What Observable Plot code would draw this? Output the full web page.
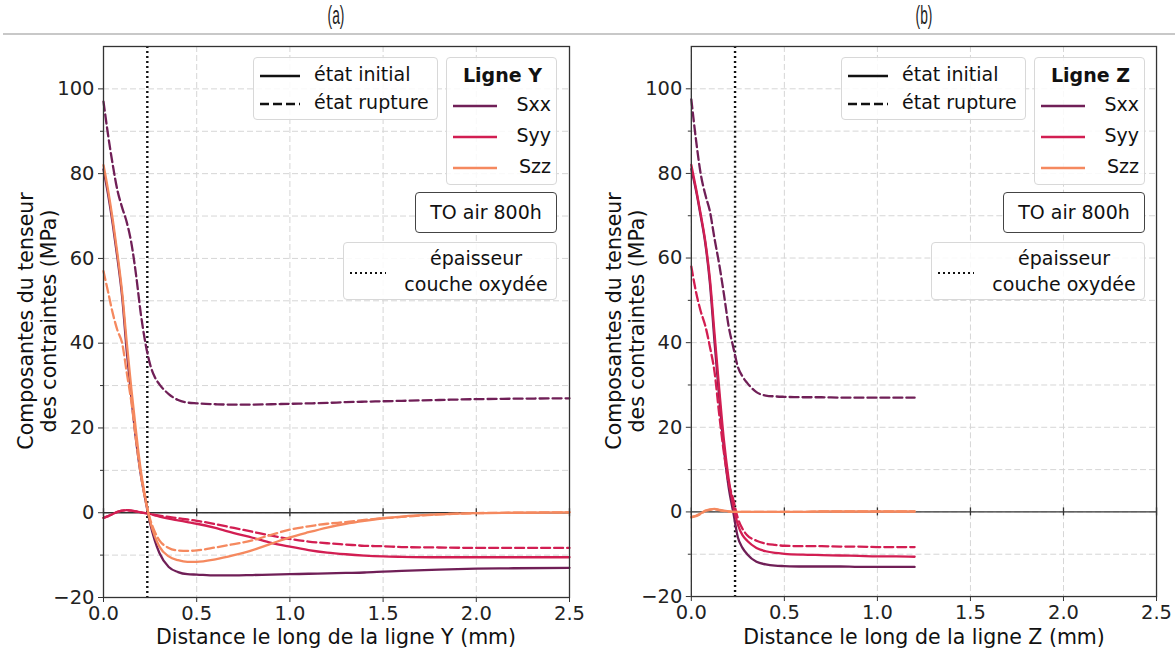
<!DOCTYPE html>
<html>
<head>
<meta charset="utf-8">
<script src="https://cdn.jsdelivr.net/npm/d3@7"></script>
<script src="https://cdn.jsdelivr.net/npm/@observablehq/plot@0.6"></script>
<style>
  html, body { margin: 0; padding: 0; background: #fff; }
  body { width: 1175px; height: 656px; position: relative; overflow: hidden; font-family: "DejaVu Sans", sans-serif; color: #111; }
  .abs { position: absolute; }
  .title { position: absolute; top: 1px; font-family: "Liberation Sans", sans-serif; font-size: 25px; transform: scaleX(0.55); transform-origin: center; width: 60px; text-align: center; color: #222; }
  .hline { position: absolute; left: 3px; right: 0; top: 33px; height: 1.5px; background: #c8c8c8; }
  .leg { position: absolute; background: rgba(255,255,255,0.85); border: 1px solid #d8d8d8; border-radius: 4px; box-sizing: border-box; font-size: 19px; }
  .row { position: absolute; height: 26px; line-height: 26px; white-space: nowrap; }
  .tobox { position: absolute; background: #fff; border: 1.3px solid #444; border-radius: 4px; box-sizing: border-box; font-size: 19px; text-align: center; }
  .ylab { position: absolute; font-size: 20.5px; white-space: nowrap; transform: translate(-50%, -50%) rotate(-90deg); text-align: center; line-height: 23px; }
  .xlab { position: absolute; font-size: 20.5px; white-space: nowrap; transform: translate(-50%, -50%); }
</style>
</head>
<body>
<div id="root"></div>
<script>
// ---------------- data ----------------
const xTicks = [0, 0.5, 1.0, 1.5, 2.0, 2.5];
const yTicks = [-20, 0, 20, 40, 60, 80, 100];
const yMinor = [-10, 10, 30, 50, 70, 90];
const yGrid = [-10, 0, 10, 20, 30, 40, 50, 60, 70, 80, 90, 100];
const oxideThickness = [0.235];
const seriesNames = ["Sxx", "Syy", "Szz"];
const seriesColors = ["#701f57", "#d21e52", "#f5895f"];
const stateNames = ["état initial", "état rupture"];

// Panel (a) : ligne Y
const xA = [0,0.025,0.05,0.075,0.1,0.125,0.15,0.175,0.2,0.225,0.25,0.275,0.3,0.35,0.4,0.45,0.5,0.6,0.7,0.8,0.9,1.0,1.1,1.2,1.3,1.4,1.5,1.6,1.8,2.0,2.2,2.5];
const aSxxInit = [81,75,68,60,51,38,27,17,9,3,-2.5,-6.5,-9.5,-12.8,-14,-14.5,-14.6,-14.8,-14.8,-14.7,-14.6,-14.5,-14.4,-14.3,-14.2,-14.1,-13.9,-13.7,-13.4,-13.2,-13.1,-13.0];
const aSyyInit = [-1.2,-0.8,-0.3,0.2,0.5,0.6,0.5,0.3,0.1,-0.1,-0.3,-0.6,-0.9,-1.4,-1.8,-2.2,-2.6,-3.6,-4.8,-5.9,-7.1,-8.0,-8.8,-9.4,-9.8,-10.1,-10.3,-10.4,-10.5,-10.5,-10.5,-10.5];
const aSzzInit = [82,76,69,61,52,40,29,19,10,3.5,-2,-5.5,-8,-10.3,-11.2,-11.6,-11.6,-11.0,-10.0,-8.8,-7.3,-5.8,-4.6,-3.5,-2.6,-1.9,-1.3,-0.9,-0.4,-0.1,0,0.1];
const aSxxRupt = [97,89,82,76,72,68.5,63.5,56,47,40,35,32,30.3,28,26.6,26,25.8,25.6,25.5,25.5,25.6,25.7,25.8,25.9,26.1,26.2,26.3,26.4,26.6,26.8,26.9,27.0];
const aSyyRupt = [-1.2,-0.8,-0.3,0.2,0.5,0.6,0.5,0.3,0.1,-0.1,-0.3,-0.5,-0.7,-1.0,-1.3,-1.6,-1.9,-2.7,-3.6,-4.5,-5.4,-6.2,-6.8,-7.2,-7.5,-7.8,-7.9,-8.1,-8.2,-8.3,-8.3,-8.3];
const aSzzRupt = [57,52,47,43,40,33,26,17,9,3,-1.5,-4.5,-6.5,-8.3,-8.9,-9.0,-8.9,-8.2,-7.4,-6.5,-5.2,-4.0,-3.2,-2.6,-2.2,-1.7,-1.3,-1.0,-0.4,-0.1,0,0.1];

// Panel (b) : ligne Z
const xB = [0,0.025,0.05,0.075,0.1,0.125,0.15,0.175,0.2,0.225,0.25,0.275,0.3,0.35,0.4,0.45,0.5,0.6,0.7,0.8,0.9,1.0,1.1,1.2];
const bSxxInit = [81,76,70,63.5,54,40,27,15,6,0,-6,-8.5,-10,-11.8,-12.4,-12.7,-12.8,-12.9,-12.9,-12.9,-13,-13,-13,-13];
const bSyyInit = [82,76.5,70.5,64,55,42,29,17,8,1.5,-3,-5.5,-6.8,-8.5,-9.3,-9.7,-9.9,-10.1,-10.2,-10.3,-10.4,-10.5,-10.5,-10.6];
const bSzzInit = [-1.2,-0.9,-0.4,0.3,0.6,0.7,0.5,0.3,0.1,0,0,0,0,0,0,0,0,0,0.1,0.1,0.1,0.1,0.1,0.1];
const bSxxRupt = [97.5,88,80,75,71,64.5,58.5,51.5,44,39,34.3,32,30.5,28.3,27.5,27.3,27.2,27.1,27.1,27.0,27.0,27.0,27.0,27.0];
const bSyyRupt = [58,52,47.5,44,39,33,23,14,7,3,-1.5,-4,-5.5,-6.8,-7.5,-7.8,-8.0,-8.1,-8.1,-8.2,-8.2,-8.3,-8.3,-8.3];
const bSzzRupt = [-1.3,-1.0,-0.5,0.2,0.5,0.6,0.4,0.2,0.1,0,0,0,0,0,0,0,0,0,0.1,0.1,0.1,0.1,0.1,0.1];

// ---------------- build ----------------
const minus = d => String(d).replace("-", "\u2212");

function rows(xs, init, rupt) {
  const out = [];
  seriesNames.forEach((s, k) => {
    xs.forEach((x, i) => out.push({x, y: init[k][i], serie: s, state: "init"}));
    xs.forEach((x, i) => out.push({x, y: rupt[k][i], serie: s, state: "rupt"}));
  });
  return out;
}

function panel(data) {
  const lineMarks = [];
  seriesNames.forEach((s, k) => {
    lineMarks.push(Plot.line(data.filter(d => d.serie === s && d.state === "init"),
      {x: "x", y: "y", stroke: seriesColors[k], strokeWidth: 2.3, curve: "monotone-x"}));
    lineMarks.push(Plot.line(data.filter(d => d.serie === s && d.state === "rupt"),
      {x: "x", y: "y", stroke: seriesColors[k], strokeWidth: 2.3, strokeDasharray: "9,4", curve: "monotone-x"}));
  });
  return Plot.plot({
    width: 588, height: 616,
    marginLeft: 103, marginRight: 19, marginTop: 6, marginBottom: 59,
    style: {fontFamily: "DejaVu Sans", fontSize: "19.5px", color: "#222", background: "white", overflow: "visible"},
    x: {domain: [0, 2.5]},
    y: {domain: [-20, 110]},
    marks: [
      Plot.gridX(xTicks, {stroke: "#d6d6d6", strokeOpacity: 1, strokeDasharray: "6,3"}),
      Plot.gridY(yGrid, {stroke: "#d6d6d6", strokeOpacity: 1, strokeDasharray: "6,3"}),
      Plot.ruleY([0], {stroke: "#333", strokeWidth: 1.4}),
      Plot.ruleX(xTicks, {x: d => d, y1: 0, y2: 0, insetTop: -4, insetBottom: -4, stroke: "#333", strokeWidth: 1.3}),
      Plot.ruleX(oxideThickness, {stroke: "#111", strokeWidth: 2.4, strokeDasharray: "2,3"}),
      ...lineMarks,
      Plot.axisX({ticks: xTicks, tickFormat: d => d.toFixed(1), tickSize: 5, tickPadding: 4, label: null, stroke: "#333"}),
      Plot.axisY({ticks: yTicks, tickFormat: minus, tickSize: 5, tickPadding: 4, label: null, stroke: "#333"}),
      Plot.axisY({ticks: yMinor, tickFormat: () => "", tickSize: 3, label: null, stroke: "#333"}),
      Plot.frame({stroke: "#333", strokeWidth: 1.3})
    ]
  });
}

function swatch(color, dash, w, sw) {
  return `<svg width="${w}" height="10" style="vertical-align:middle"><line x1="0" y1="5" x2="${w}" y2="5" stroke="${color}" stroke-width="${sw || 2.3}" ${dash ? `stroke-dasharray="${dash}"` : ""}/></svg>`;
}

function addPanel(left, title, data, ligne, xlabel) {
  const hdr = document.createElement("div");
  hdr.className = "title";
  hdr.style.left = (left + 336 - 30) + "px";
  hdr.textContent = title;
  document.body.appendChild(hdr);

  const wrap = document.createElement("div");
  wrap.className = "abs";
  wrap.style.left = left + "px";
  wrap.style.top = "40px";
  wrap.appendChild(panel(data));
  document.body.appendChild(wrap);

  // legend 1 : states
  const l1 = document.createElement("div");
  l1.className = "leg";
  Object.assign(l1.style, {left: (left + 253) + "px", top: "57px", width: "185px", height: "63px"});
  l1.innerHTML =
    `<div class="row" style="left:6px;top:3px">${swatch("#111", null, 40)}<span style="margin-left:14px">${stateNames[0]}</span></div>` +
    `<div class="row" style="left:6px;top:31px">${swatch("#111", "9,4", 40)}<span style="margin-left:14px">${stateNames[1]}</span></div>`;
  document.body.appendChild(l1);

  // legend 2 : components
  const l2 = document.createElement("div");
  l2.className = "leg";
  Object.assign(l2.style, {left: (left + 446) + "px", top: "57px", width: "111px", height: "128px"});
  let h = `<div class="row" style="left:0;width:111px;top:4px;text-align:center;font-weight:bold">${ligne}</div>`;
  seriesNames.forEach((s, k) => {
    h += `<div class="row" style="left:6px;top:${33 + k * 31}px;width:98px">${swatch(seriesColors[k], null, 44)}<span style="position:absolute;right:0">${s}</span></div>`;
  });
  l2.innerHTML = h;
  document.body.appendChild(l2);

  // annotation box
  const tb = document.createElement("div");
  tb.className = "tobox";
  Object.assign(tb.style, {left: (left + 415) + "px", top: "192px", width: "142px", height: "41px", lineHeight: "38px"});
  tb.textContent = "TO air 800h";
  document.body.appendChild(tb);

  // legend 3 : oxide thickness
  const l3 = document.createElement("div");
  l3.className = "leg";
  Object.assign(l3.style, {left: (left + 343) + "px", top: "242px", width: "214px", height: "58px"});
  l3.innerHTML =
    `<div class="row" style="left:6px;top:15px">${swatch("#111", "2,3", 36, 2)}</div>` +
    `<div style="position:absolute;left:50px;width:164px;top:2px;text-align:center;line-height:26px">épaisseur<br>couche oxydée</div>`;
  document.body.appendChild(l3);

  // axis labels
  const yl = document.createElement("div");
  yl.className = "ylab";
  Object.assign(yl.style, {left: (left + 38) + "px", top: "321px"});
  yl.innerHTML = "Composantes du tenseur<br>des contraintes (MPa)";
  document.body.appendChild(yl);

  const xl = document.createElement("div");
  xl.className = "xlab";
  Object.assign(xl.style, {left: (left + 336) + "px", top: "637px"});
  xl.textContent = xlabel;
  document.body.appendChild(xl);
}

const line = document.createElement("div");
line.className = "hline";
document.body.appendChild(line);

addPanel(0, "(a)", rows(xA, [aSxxInit, aSyyInit, aSzzInit], [aSxxRupt, aSyyRupt, aSzzRupt]), "Ligne Y", "Distance le long de la ligne Y (mm)");
addPanel(588, "(b)", rows(xB, [bSxxInit, bSyyInit, bSzzInit], [bSxxRupt, bSyyRupt, bSzzRupt]), "Ligne Z", "Distance le long de la ligne Z (mm)");
</script>
</body>
</html>
